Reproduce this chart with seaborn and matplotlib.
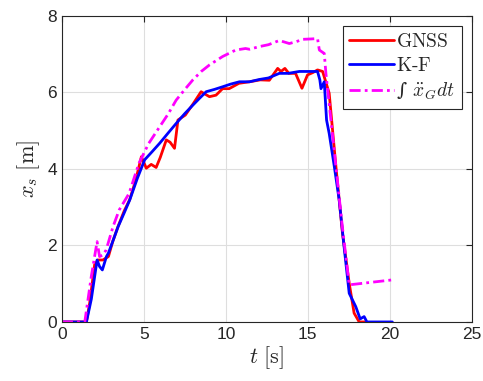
import numpy as np
import pandas as pd
import matplotlib
matplotlib.use("Agg")
import matplotlib.pyplot as plt
import seaborn as sns

# GNSS
t_gnss = [0.0, 1.5, 1.7, 2.0, 2.2, 2.5, 2.84, 3.1, 3.43, 3.8, 4.14, 4.5, 4.85, 5.15, 5.45, 5.75, 6.0, 6.37, 6.6, 6.87,
          7.08, 7.53, 8.0, 8.49, 9.0, 9.4, 9.8, 10.2, 10.8, 11.44, 12.1, 12.65, 13.16, 13.36, 13.6, 13.84, 14.25,
          14.64, 14.98, 15.3, 15.59, 15.9, 16.3, 16.71, 17.11, 17.52, 17.82, 18.13, 18.5]
x_gnss = [0.0, 0.0, 0.5, 1.5, 1.62, 1.62, 1.71, 2.1, 2.5, 2.9, 3.2, 3.7, 4.32, 4.02, 4.12, 4.04, 4.3, 4.76, 4.7, 4.54,
          5.28, 5.41, 5.7, 6.02, 5.89, 5.93, 6.1, 6.1, 6.24, 6.28, 6.33, 6.32, 6.63, 6.55, 6.63, 6.5, 6.5,
          6.11, 6.46, 6.52, 6.59, 6.55, 5.98, 4.06, 2.32, 1.01, 0.23, 0.0, 0.0]

# K-F
t_kf = [0.0, 1.5, 1.8, 2.15, 2.3, 2.47, 2.72, 2.84, 3.1, 3.43, 3.8, 4.14, 4.6, 5.05, 5.5, 5.96, 6.5, 6.97, 7.5, 7.99,
        8.4, 8.8, 9.3, 9.81, 10.3, 10.83, 11.44, 12.04, 12.6, 13.26, 13.8, 14.48, 15.0, 15.59, 15.73, 15.8, 16.0,
        16.14, 16.3, 16.6, 16.91, 17.2, 17.52, 17.92, 18.19, 18.43, 18.6, 20.15]
x_kf = [0.0, 0.0, 0.6, 1.62, 1.45, 1.36, 1.71, 1.8, 2.1, 2.49, 2.85, 3.19, 3.75, 4.24, 4.45, 4.67, 4.95, 5.19, 5.45, 5.67,
        5.85, 6.02, 6.08, 6.15, 6.22, 6.28, 6.28, 6.34, 6.38, 6.5, 6.5, 6.55, 6.55, 6.55, 6.33, 6.1, 6.28,
        5.28, 4.93, 4.1, 3.19, 2.0, 0.75, 0.40, 0.08, 0.14, 0.0, 0.0]

# integral of acceleration
t_int = [0.0, 1.4, 1.8, 2.15, 2.3, 2.5, 2.7, 3.12, 3.5, 4.1, 4.7, 5.3, 5.96, 6.5, 6.97, 7.5, 7.99, 8.5, 9.0, 9.8,
         10.6, 11.2, 11.44, 12.04, 12.6, 13.26, 13.87, 14.3, 14.68, 15.2, 15.59, 15.7, 16.0, 16.1, 16.6, 17.1, 17.52, 20.15]
x_int = [0.0, 0.0, 1.2, 2.10, 1.71, 1.75, 1.88, 2.49, 2.93, 3.36, 4.15, 4.67, 5.1, 5.45, 5.8, 6.08, 6.33, 6.55, 6.72, 6.94,
         7.11, 7.15, 7.13, 7.2, 7.25, 7.36, 7.28, 7.33, 7.39, 7.40, 7.41, 7.11, 7.02, 6.5, 4.5, 2.5, 0.97, 1.10]

series_names = ["GNSS", "K-F", "int"]
legend_labels = ["GNSS", "K-F", "∫ " + r"$\ddot{x}_G dt$"]
colors = ["#ff0000", "#0000ff", "#ff00ff"]

df = pd.concat([
    pd.DataFrame({"t": t_gnss, "x": x_gnss, "s": "GNSS"}),
    pd.DataFrame({"t": t_kf, "x": x_kf, "s": "K-F"}),
    pd.DataFrame({"t": t_int, "x": x_int, "s": "int"}),
], ignore_index=True)

sns.set_style("white")
plt.rcParams["mathtext.fontset"] = "cm"
plt.rcParams["font.family"] = ["Liberation Sans", "DejaVu Sans"]

fig = plt.figure(figsize=(4.83, 3.81), dpi=100)
ax = fig.add_axes([0.128, 0.155, 0.849, 0.803])

for name, lab, c in zip(series_names, legend_labels, colors):
    sub = df[df.s == name]
    if name == "int":
        sns.lineplot(data=sub, x="t", y="x", ax=ax, color=c, lw=2, dashes=False, label=lab,
                     estimator=None, sort=False, linestyle=(0, (4, 1.5, 1, 1.5)))
    else:
        sns.lineplot(data=sub, x="t", y="x", ax=ax, color=c, lw=2, label=lab,
                     estimator=None, sort=False)

ax.set_xlim(0, 25)
ax.set_ylim(0, 8)
ax.set_xticks([0, 5, 10, 15, 20, 25])
ax.set_yticks([0, 2, 4, 6, 8])
ax.grid(True, color="#dedede", lw=0.8)
for sp in ax.spines.values():
    sp.set_color("#262626")
    sp.set_linewidth(0.8)
ax.tick_params(direction="in", length=4, colors="#262626", labelsize=12.5, top=True, right=True,
               labelcolor="#262626")
ax.set_xlabel(r"$t\ [\mathrm{s}]$", fontsize=16, color="#262626", labelpad=2)
ax.set_ylabel(r"$x_s\ [\mathrm{m}]$", fontsize=16, color="#262626", labelpad=4)

leg = ax.legend(loc="upper right", bbox_to_anchor=(0.975, 0.967), frameon=True,
                prop={"family": ["DejaVu Serif"], "size": 14},
                fancybox=False, edgecolor="#262626", framealpha=1, handlelength=2.3,
                handletextpad=0.1, borderpad=0.35, labelspacing=0.3, borderaxespad=0)
leg.get_frame().set_linewidth(0.8)
for txt in leg.get_texts()[:2]:
    txt.set_text(r"$\mathrm{" + txt.get_text().replace("-", "\\text{-}") + "}$")

fig.savefig("out.png", dpi=100)
